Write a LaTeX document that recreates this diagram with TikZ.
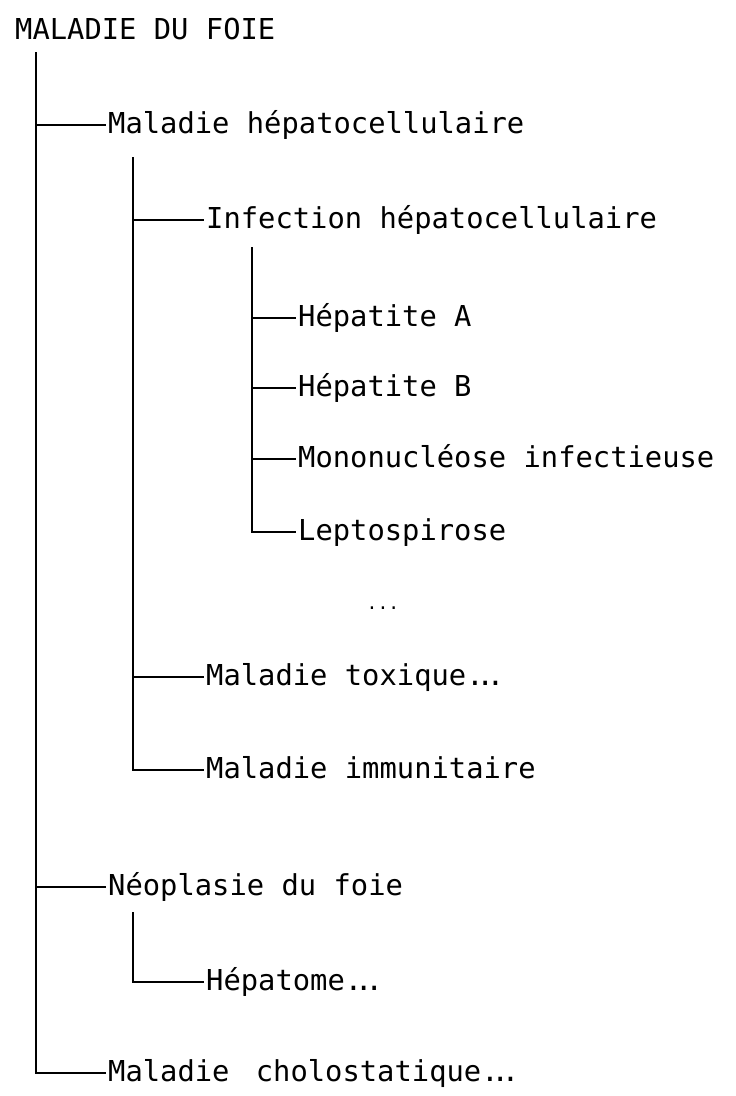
\documentclass[tikz,border=0pt]{standalone}
\usepackage{fontspec}
\setmainfont{DejaVu Sans Mono}
\newcommand{\tdots}{.\kern-7pt.\kern-7pt.}
\begin{document}
\begin{tikzpicture}[x=1pt,y=-1pt,
  txt/.style={anchor=west,inner xsep=2pt,inner ysep=0pt,text height=24pt,text depth=8pt,font=\fontsize{28.8}{34}\selectfont},
  tree/.style={line width=1.4pt,black}]
\useasboundingbox (0,0) rectangle (736,1096);
% nodes
\node[txt] (root) at (13,31) {MALADIE DU FOIE};
\node[txt] (hep)  at (106,125) {Maladie hépatocellulaire};
\node[txt] (inf)  at (204,220) {Infection hépatocellulaire};
\node[txt] (ha)   at (296,318) {Hépatite A};
\node[txt] (hb)   at (296,388) {Hépatite B};
\node[txt] (mono) at (296,459) {Mononucléose infectieuse};
\node[txt] (lep)  at (296,532) {Leptospirose};
\node[font=\fontsize{18}{22}\selectfont] (dots) at (383,608) {...};
\node[txt] (tox)  at (204,677) {Maladie toxique\tdots};
\node[txt] (imm)  at (204,770) {Maladie immunitaire};
\node[txt] (neo)  at (106,887) {Néoplasie du foie};
\node[txt] (hto)  at (204,982) {Hépatome\tdots};
\node[txt] (cho)  at (106,1073) {Maladie\hspace{9pt} cholostatique\tdots};
% vertical tops
\coordinate (v0) at (36,52);
\coordinate (v1) at (133,157);
\coordinate (v2) at (252,247);
\coordinate (v3) at (133,912);
% connectors
\draw[tree] (v0) |- (hep.west);
\draw[tree] (v0) |- (neo.west);
\draw[tree] (v0) |- (cho.west);
\draw[tree] (v1) |- (inf.west);
\draw[tree] (v1) |- (tox.west);
\draw[tree] (v1) |- (imm.west);
\draw[tree] (v2) |- (ha.west);
\draw[tree] (v2) |- (hb.west);
\draw[tree] (v2) |- (mono.west);
\draw[tree] (v2) |- (lep.west);
\draw[tree] (v3) |- (hto.west);
\end{tikzpicture}
\end{document}
